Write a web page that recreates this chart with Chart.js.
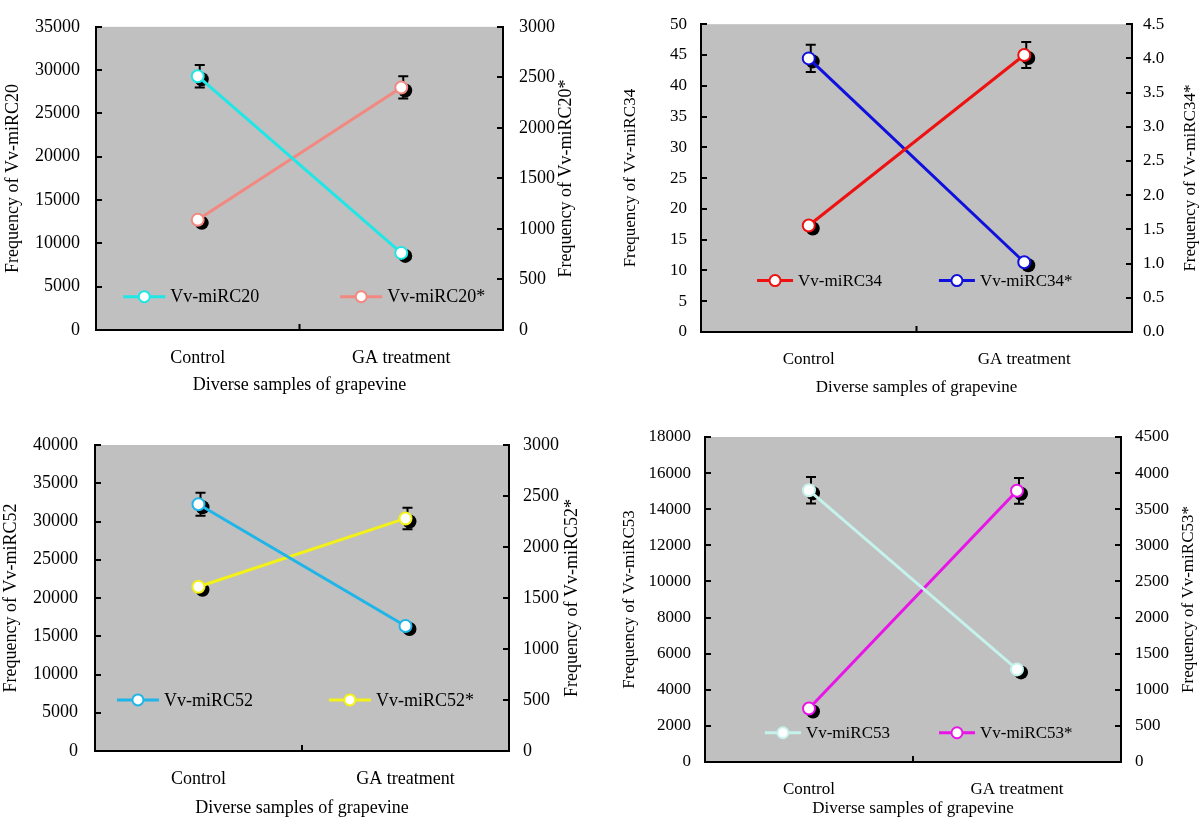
<!DOCTYPE html>
<html>
<head>
<meta charset="utf-8">
<script src="https://cdn.jsdelivr.net/npm/chart.js@4.4.1/dist/chart.umd.min.js"></script>
<style>
  html, body { margin: 0; padding: 0; background: #fff; }
  canvas { position: absolute; }
</style>
</head>
<body>
<canvas id="c1" width="600" height="410" style="left:0;top:0"></canvas>
<canvas id="c2" width="600" height="410" style="left:600px;top:0"></canvas>
<canvas id="c3" width="600" height="409" style="left:0;top:410px"></canvas>
<canvas id="c4" width="600" height="409" style="left:600px;top:410px"></canvas>
<script>
const categories = ['Control', 'GA treatment'];

// panel 1
const miRC20 = [29300, 8900];
const miRC20Err = [1300, 0];
const miRC20Star = [1090, 2400];
const miRC20StarErr = [0, 110];

// panel 2
const miRC34 = [17.3, 45.0];
const miRC34Err = [0, 2.1];
const miRC34Star = [4.0, 1.02];
const miRC34StarErr = [0.2, 0];

// panel 3
const miRC52 = [32250, 16340];
const miRC52Err = [1500, 0];
const miRC52Star = [1610, 2280];
const miRC52StarErr = [0, 105];

// panel 4
const miRC53 = [15050, 5130];
const miRC53Err = [730, 0];
const miRC53Star = [740, 3755];
const miRC53StarErr = [0, 178];

Chart.defaults.font.family = '"Liberation Serif", "DejaVu Serif", serif';
Chart.defaults.color = '#000';

const panelPlugin = {
  id: 'panel',
  beforeDraw(chart) {
    const { ctx, chartArea: a } = chart;
    ctx.save();
    ctx.fillStyle = '#c0c0c0';
    ctx.fillRect(a.left, a.top, a.right - a.left, a.bottom - a.top);
    ctx.restore();
  },
  beforeDatasetsDraw(chart) {
    const ctx = chart.ctx;
    ctx.save();
    // error bars
    chart.data.datasets.forEach((ds, i) => {
      const sc = chart.scales[ds.yAxisID];
      chart.getDatasetMeta(i).data.forEach((pt, j) => {
        const e = ds.errors[j];
        if (!e) return;
        const y1 = sc.getPixelForValue(ds.data[j] + e);
        const y2 = sc.getPixelForValue(ds.data[j] - e);
        const x = pt.x + 2;
        ctx.strokeStyle = '#000';
        ctx.lineWidth = 2;
        ctx.beginPath();
        ctx.moveTo(x, y1); ctx.lineTo(x, y2);
        ctx.moveTo(x - 5, y1); ctx.lineTo(x + 5, y1);
        ctx.moveTo(x - 5, y2); ctx.lineTo(x + 5, y2);
        ctx.stroke();
      });
    });
    // marker shadows
    chart.data.datasets.forEach((ds, i) => {
      chart.getDatasetMeta(i).data.forEach(pt => {
        ctx.fillStyle = '#000';
        ctx.beginPath();
        ctx.arc(pt.x + 4, pt.y + 3, 7, 0, Math.PI * 2);
        ctx.fill();
      });
    });
    ctx.restore();
  },
  afterDraw(chart, args, opts) {
    const { ctx, chartArea: a } = chart;
    ctx.save();
    ctx.strokeStyle = '#000';
    ctx.lineWidth = 2;
    // inward tick marks
    ['y', 'y1'].forEach(id => {
      const sc = chart.scales[id];
      const x0 = id === 'y' ? a.left : a.right;
      const dir = id === 'y' ? 1 : -1;
      sc.ticks.forEach((t, k) => {
        const y = Math.round(sc.getPixelForTick(k));
        ctx.beginPath();
        ctx.moveTo(x0, y); ctx.lineTo(x0 + dir * 6, y);
        ctx.stroke();
      });
    });
    const xs = chart.scales.x;
    const xm = (xs.getPixelForValue(0) + xs.getPixelForValue(1)) / 2;
    ctx.beginPath();
    ctx.moveTo(xm, a.bottom); ctx.lineTo(xm, a.bottom - 6);
    ctx.stroke();

    // right axis title, reading upward
    ctx.fillStyle = '#000';
    ctx.font = opts.fontSize + 'px "Liberation Serif"';
    ctx.textAlign = 'center';
    ctx.textBaseline = 'middle';
    ctx.translate(opts.rightTitleX, (a.top + a.bottom) / 2);
    ctx.rotate(-Math.PI / 2);
    ctx.fillText(opts.rightTitle, 0, 0);
    ctx.setTransform(1, 0, 0, 1, 0, 0);

    // legend inside the plot
    const ly = a.top + opts.legendY * (a.bottom - a.top);
    chart.data.datasets.forEach((ds, i) => {
      const lx = a.left + opts.legendX[i] * (a.right - a.left);
      const len = opts.legendLen;
      ctx.strokeStyle = ds.borderColor;
      ctx.lineWidth = 3;
      ctx.beginPath();
      ctx.moveTo(lx, ly); ctx.lineTo(lx + len, ly);
      ctx.stroke();
      ctx.fillStyle = '#fff';
      ctx.lineWidth = 2;
      ctx.beginPath();
      ctx.arc(lx + len / 2, ly, 5.5, 0, Math.PI * 2);
      ctx.fill(); ctx.stroke();
      ctx.fillStyle = '#000';
      ctx.textAlign = 'left';
      ctx.fillText(ds.label, lx + len + 5, ly + 1);
    });
    ctx.restore();
  }
};

function lineSet(label, data, errors, color, axis) {
  return {
    label, data, errors, yAxisID: axis,
    borderColor: color, borderWidth: 3,
    pointRadius: 6, pointBorderWidth: 2,
    pointBackgroundColor: '#fff', pointBorderColor: color,
    tension: 0
  };
}

const plain = v => String(v);

function buildPanel(id, sets, lay) {
  const fs = lay.fontSize;
  new Chart(document.getElementById(id), {
    type: 'line',
    data: { labels: categories, datasets: sets },
    plugins: [panelPlugin],
    options: {
      responsive: false,
      animation: false,
      layout: { padding: { left: lay.padL, right: 0, top: lay.padT, bottom: lay.padB } },
      plugins: {
        legend: { display: false },
        tooltip: { enabled: false },
        panel: {
          fontSize: fs, rightTitle: lay.rightTitle, rightTitleX: lay.rightTitleX,
          legendY: lay.legendY, legendX: lay.legendX, legendLen: lay.legendLen
        }
      },
      scales: {
        x: {
          type: 'category', offset: true,
          grid: { display: false, drawTicks: false },
          border: { display: true, color: '#000', width: 2 },
          ticks: { padding: lay.xTickPad, font: { size: fs } },
          title: { display: true, text: 'Diverse samples of grapevine', font: { size: fs }, padding: { top: 0, bottom: 0 } },
          afterFit: s => { s.height = lay.xH; }
        },
        y: {
          position: 'left', min: 0, max: lay.yMax,
          grid: { display: false, drawTicks: false },
          border: { display: true, color: '#000', width: 2 },
          ticks: { stepSize: lay.yStep, padding: lay.yTickPad, font: { size: fs }, callback: plain },
          title: { display: true, text: lay.leftTitle, font: { size: fs }, padding: { top: lay.leftTitlePad, bottom: 0 } },
          afterFit: s => { s.width = lay.yW; }
        },
        y1: {
          position: 'right', min: 0, max: lay.y1Max,
          grid: { display: false, drawTicks: false },
          border: { display: true, color: '#000', width: 2 },
          ticks: { stepSize: lay.y1Step, padding: lay.y1TickPad, font: { size: fs }, callback: lay.y1Fmt || plain },
          title: { display: false },
          afterFit: s => { s.width = lay.y1W; }
        }
      }
    }
  });
}

buildPanel('c1', [
  lineSet('Vv-miRC20', miRC20, miRC20Err, '#20e6e6', 'y'),
  lineSet('Vv-miRC20*', miRC20Star, miRC20StarErr, '#f28880', 'y1')
], {
  fontSize: 18, padL: 0, padT: 10, padB: 14,
  yW: 96, y1W: 97, xH: 66,
  yMax: 35000, yStep: 5000, y1Max: 3000, y1Step: 500,
  yTickPad: 16, y1TickPad: 16, xTickPad: 17, leftTitlePad: 2,
  leftTitle: 'Frequency of Vv-miRC20', rightTitle: 'Frequency of Vv-miRC20*', rightTitleX: 566,
  legendY: 0.89, legendX: [0.067, 0.60], legendLen: 42
});

buildPanel('c2', [
  lineSet('Vv-miRC34', miRC34, miRC34Err, '#ee1111', 'y'),
  lineSet('Vv-miRC34*', miRC34Star, miRC34StarErr, '#1010dd', 'y1')
], {
  fontSize: 17, padL: 18, padT: 14, padB: 12,
  yW: 83, y1W: 68, xH: 66,
  yMax: 50, yStep: 5, y1Max: 4.5, y1Step: 0.5, y1Fmt: v => v.toFixed(1),
  yTickPad: 14, y1TickPad: 11, xTickPad: 17, leftTitlePad: 2,
  leftTitle: 'Frequency of Vv-miRC34', rightTitle: 'Frequency of Vv-miRC34*', rightTitleX: 591,
  legendY: 0.833, legendX: [0.13, 0.552], legendLen: 36
});

buildPanel('c3', [
  lineSet('Vv-miRC52', miRC52, miRC52Err, '#1fb5e8', 'y'),
  lineSet('Vv-miRC52*', miRC52Star, miRC52StarErr, '#f2f218', 'y1')
], {
  fontSize: 18, padL: 0, padT: 35, padB: 0,
  yW: 95, y1W: 91, xH: 68,
  yMax: 40000, yStep: 5000, y1Max: 3000, y1Step: 500,
  yTickPad: 17, y1TickPad: 14, xTickPad: 17, leftTitlePad: 0,
  leftTitle: 'Frequency of Vv-miRC52', rightTitle: 'Frequency of Vv-miRC52*', rightTitleX: 572,
  legendY: 0.833, legendX: [0.053, 0.565], legendLen: 42
});

buildPanel('c4', [
  lineSet('Vv-miRC53', miRC53, miRC53Err, '#c6f2ec', 'y'),
  lineSet('Vv-miRC53*', miRC53Star, miRC53StarErr, '#e814e8', 'y1')
], {
  fontSize: 17, padL: 17, padT: 27, padB: 0,
  yW: 88, y1W: 79, xH: 57,
  yMax: 18000, yStep: 2000, y1Max: 4500, y1Step: 500,
  yTickPad: 14, y1TickPad: 14, xTickPad: 17, leftTitlePad: 2,
  leftTitle: 'Frequency of Vv-miRC53', rightTitle: 'Frequency of Vv-miRC53*', rightTitleX: 589,
  legendY: 0.91, legendX: [0.144, 0.5625], legendLen: 36
});
</script>
</body>
</html>
